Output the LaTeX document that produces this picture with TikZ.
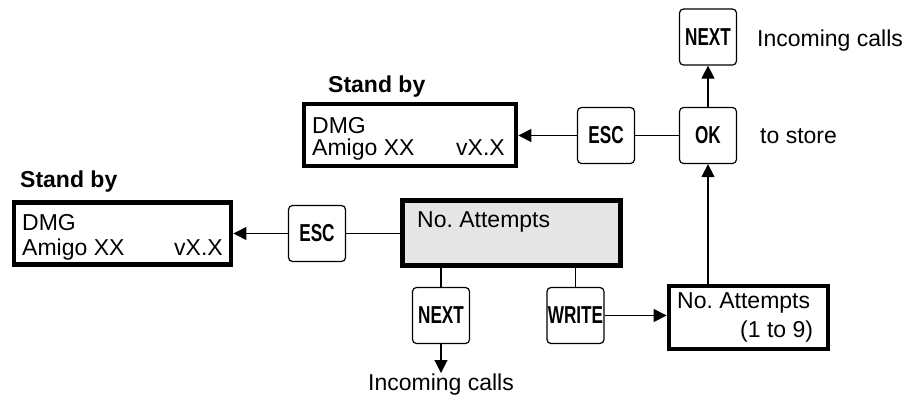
\documentclass[tikz,border=0pt]{standalone}
\usepackage{fontspec}
\setmainfont{Liberation Sans}
\usetikzlibrary{arrows.meta}
\frenchspacing
\newcommand\keyname[1]{\scalebox{0.7}[1]{#1}}
\begin{document}
\begin{tikzpicture}[x=1pt,y=-1pt,
  txt/.style={inner sep=0pt, font=\fontsize{23}{23}\selectfont},
  title/.style={inner sep=0pt, font=\fontsize{23}{23}\selectfont\bfseries},
  key/.style={draw, line width=1.2pt, rounded corners=4pt, inner sep=0pt,
    minimum width=57pt, minimum height=56pt,
    font=\fontsize{24.5}{24.5}\selectfont\bfseries},
  display/.style={draw, line width=4.8pt, inner sep=0pt},
  conn/.style={line width=1.1pt},
  arr/.style={conn, -{Triangle[length=13pt,width=13pt]}}
]
\useasboundingbox (0,0) rectangle (908,399);

% stand-by displays
\node[display, minimum width=212pt, minimum height=62pt] (sbtop) at (410,135) {};
\node[display, minimum width=217pt, minimum height=62pt] (sbleft) at (122.5,233.5) {};
\node[title, anchor=base west] (sbtoplbl) at (328,92) {Stand by};
\node[title, anchor=base west] (sbleftlbl) at (20,187) {Stand by};
\node[txt, anchor=base west] (sbtopa) at (312,133) {DMG};
\node[txt, anchor=base west] (sbtopb) at (312,155) {Amigo XX};
\node[txt, anchor=base east] (sbtopc) at (505,155) {vX.X};
\node[txt, anchor=base west] (sblefta) at (22,230) {DMG};
\node[txt, anchor=base west] (sbleftb) at (22,255) {Amigo XX};
\node[txt, anchor=base east] (sbleftc) at (223,255) {vX.X};

% menu display
\node[display, fill=black!10, minimum width=218pt, minimum height=65pt] (menu) at (511.5,233) {};
\node[txt, anchor=base west] (menulbl) at (417,227) {No. Attempts};

% entry display
\node[display, minimum width=159pt, minimum height=63pt] (entry) at (748.5,317.5) {};
\node[txt, anchor=base west] (entrya) at (677,308) {No. Attempts};
\node[txt, anchor=base west] (entryb) at (740,337) {(1 to 9)};

% keys
\node[key] (nexttop) at (708,37) {\keyname{NEXT}};
\node[key] (ok) at (708,135.5) {\keyname{OK}};
\node[key] (esctop) at (606,135.5) {\keyname{ESC}};
\node[key] (escleft) at (317,233.5) {\keyname{ESC}};
\node[key] (nextbot) at (441,315.5) {\keyname{NEXT}};
\node[key] (write) at (575.5,315.5) {\keyname{WRITE}};

% free labels
\node[txt, anchor=base west] (inctop) at (757,46) {Incoming calls};
\node[txt, anchor=west] (store) at (760,136) {to store};
\node[txt, anchor=base] (incbot) at (441,390) {Incoming calls};
\coordinate (incend) at (441,373);

% connectors
\draw[arr] (ok.north) -- (nexttop.south);
\draw[conn] (ok.west) -- (esctop.east);
\draw[arr] (esctop.west) -- (sbtop.east |- esctop.west);
\draw[conn] (menu.west |- escleft.east) -- (escleft.east);
\draw[arr] (escleft.west) -- (sbleft.east |- escleft.west);
\draw[conn] (nextbot.north |- menu.south) -- (nextbot.north);
\draw[conn] (write.north |- menu.south) -- (write.north);
\draw[arr] (nextbot.south) -- (incend);
\draw[arr] (write.east) -- (entry.west |- write.east);
\draw[arr] (ok.south |- entry.north) -- (ok.south);
\end{tikzpicture}
\end{document}
